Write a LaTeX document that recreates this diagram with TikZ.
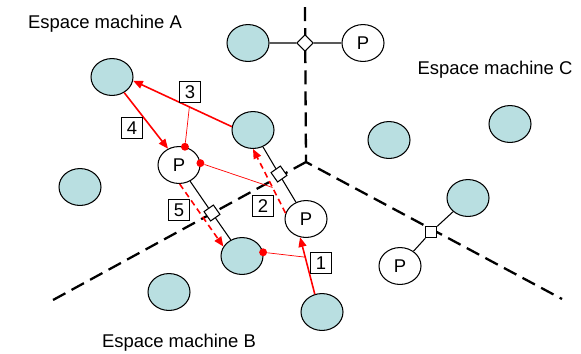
\documentclass[tikz,border=0pt]{standalone}
\usepackage{fontspec}
\setmainfont{Liberation Sans}
\usepackage{tikz}
\usetikzlibrary{positioning,arrows.meta,calc,shapes.geometric}
\definecolor{site}{HTML}{B9DFE1}
\definecolor{msgred}{HTML}{FF0000}
\tikzset{
  obj/.style    ={ellipse, draw=black, line width=0.6pt, minimum width=23.9pt,
                  minimum height=21pt, inner sep=0pt, font=\fontsize{10.5}{12}\selectfont},
  blob/.style   ={obj, fill=site},
  proxy/.style  ={obj, fill=white},
  gate/.style   ={rectangle, draw=black, fill=white, line width=0.6pt,
                  minimum size=6.5pt, inner sep=0pt},
  numbox/.style ={rectangle, draw=black, fill=white, line width=0.6pt,
                  minimum size=12pt, inner sep=1pt, font=\fontsize{10.5}{12}\selectfont},
  zone/.style   ={anchor=base, font=\fontsize{10.5}{12}\selectfont},
  border/.style ={draw=black, line width=1.3pt, dash pattern=on 8pt off 4pt},
  link/.style   ={draw=black, line width=0.6pt},
  % one message between two objects; the dashed ones are the forwarded calls
  call/.style   ={draw=msgred, line width=0.9pt, -{Triangle[length=5.5pt,width=4.5pt]}},
  relay/.style  ={call, dash pattern=on 3.4pt off 2.3pt},
  tag/.style    ={draw=msgred, line width=0.4pt},
  reddot/.style ={circle, fill=msgred, minimum size=4.5pt, inner sep=0pt},
}
\def\bloblist{A1/112/77, A2/253/130, A3/80/187, A4/248/43, B1/242/256,
              B2/169/292, B3/322/312, C1/389/140, C2/510/124, C3/468/198}
\def\proxylist{PA/179/165, PB/306/219, PT/363/43, PC/400/266}
\def\gatelist{g1/212/213/35, g2/279/174/35, g3/305/43/45, g4/431/232/0}
\def\linklist{PA/g1, g1/B1, PB/g2, g2/A2, A4/g3, g3/PT, C3/g4, g4/PC}

\begin{document}
\begin{tikzpicture}[x=0.02cm, y=-0.02cm]
\useasboundingbox (0,0) rectangle (581,353);
% machine borders
\coordinate (O) at (306,162);
\coordinate (Ntop) at (305,7);
\coordinate (Wend) at (53,300);
\coordinate (Eend) at (562,299);
\draw[border] (Ntop) -- (O) -- (Eend);
\draw[border] (O) -- (Wend);
\node[zone] (zA) at (105,28) {Espace machine A};
\node[zone] (zC) at (495,74) {Espace machine C};
\node[zone] (zB) at (179,347) {Espace machine B};
% objects, proxies and their gates
\foreach \n/\x/\y in \bloblist {\node[blob] (\n) at (\x,\y) {};}
\foreach \n/\x/\y in \proxylist {\node[proxy] (\n) at (\x,\y) {P};}
\foreach \n/\x/\y/\r in \gatelist {\node[gate, rotate=\r] (\n) at (\x,\y) {};}
\foreach \a/\b in \linklist {\draw[link] (\a) -- (\b);}
% messages
\draw[call]  (B3.112) -- (PB.252);
\draw[relay] (PB.164) -- (A2.south);
\draw[call]  (A2.171) -- (A1.350);
\draw[call]  (A1.308) -- (PA.124);
\draw[relay] (PA.272) -- (B1.153);
\coordinate (t1) at ($(B3.112)!0.65!(PB.252)$);
\coordinate (t2) at ($(PB.164)!0.4!(A2.south)$);
\coordinate (t3) at ($(A2.171)!0.43!(A1.350)$);
\node[reddot] (d1) at (B1.10) {};
\node[reddot] (d2) at (PA.5) {};
\node[reddot] (d3) at (PA.72) {};
\draw[tag] (d1) -- (t1);
\draw[tag] (d2) -- (t2);
\draw[tag] (d3) -- (t3);
\node[numbox] (n1) at (321,263) {1};
\node[numbox] (n2) at (263,206) {2};
\node[numbox] (n3) at (190,92) {3};
\node[numbox] (n4) at (132,128) {4};
\node[numbox] (n5) at (179,210) {5};
\end{tikzpicture}
\end{document}
